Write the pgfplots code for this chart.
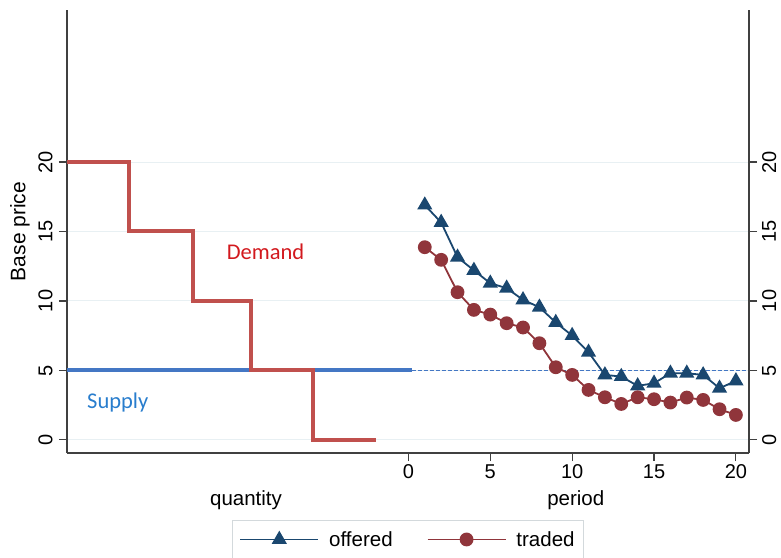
\documentclass[border=0pt]{standalone}
\usepackage{pgfplots}
\pgfplotsset{compat=1.18}
\usepackage{fontspec}
\setmainfont{Liberation Sans}
\newfontfamily\calibri{Carlito}

\definecolor{demand}{RGB}{192,80,77}
\definecolor{supply}{RGB}{68,119,196}
\definecolor{offered}{RGB}{26,71,111}
\definecolor{traded}{RGB}{144,53,59}
\definecolor{demandtxt}{RGB}{210,25,30}
\definecolor{supplytxt}{RGB}{40,125,205}
\definecolor{gridc}{RGB}{232,240,243}

\begin{document}
\begin{tikzpicture}
\useasboundingbox (0pt,0pt) rectangle (781pt,557pt);
\pgfplotsset{
  common/.style={
    scale only axis, width=682pt, height=443pt,
    at={(67pt,104pt)}, anchor=south west,
    xmin=-20.85, xmax=20.8, ymin=-0.94, ymax=30.94,
    ytick={0,5,...,20},
    axis line style={black!75, line width=1.1pt},
    major tick length=8pt,
    tick align=outside,
    tick style={black!75, line width=1.1pt},
    ticklabel style={font=\fontsize{20}{24}\selectfont},
    /pgf/number format/assume math mode=true,
  }
}
\begin{axis}[common,
  clip=false,
  axis x line*=bottom, axis y line*=left,
  xtick={0,5,...,20},
  ymajorgrids, grid style={gridc, line width=1pt},
  yticklabel style={rotate=90, anchor=south, yshift=3pt},
  ylabel={Base price},
  ylabel style={font=\fontsize{21}{24}\selectfont, at={(axis description cs:-0.069,0.5)}, anchor=center},
  legend style={at={(0.5,-0.151)}, anchor=north, legend columns=2,
    draw=gridc!80!gray, line width=0.8pt, font=\fontsize{20.5}{24}\selectfont,
    inner xsep=7pt, inner ysep=9pt,
    /tikz/every odd column/.append style={column sep=8pt},
    /tikz/every even column/.append style={column sep=32pt}},
  legend image code/.code={\draw[mark repeat=2,mark phase=2,#1] plot coordinates {(0pt,0pt) (39pt,0pt) (78pt,0pt)};},
]
% supply
\addplot[supply, line width=4pt, forget plot] coordinates {(-20.85,5) (0.2,5)};
\addplot[supply, line width=1.4pt, dash pattern=on 4pt off 2pt, forget plot] coordinates {(0.2,5) (20.8,5)};
% demand
\addplot[demand, line width=4pt, const plot, forget plot] coordinates {
  (-20.85,20) (-17.07,15) (-13.17,10) (-9.6,5) (-5.82,0) (-1.98,0)};
% offered
\addplot[offered, line width=1.8pt, mark=triangle*, mark size=7pt, mark options={solid}] coordinates {
  (1,16.9) (2,15.65) (3,13.15) (4,12.2) (5,11.28) (6,10.92) (7,10.08) (8,9.55)
  (9,8.45) (10,7.51) (11,6.31) (12,4.68) (13,4.56) (14,3.89) (15,4.08) (16,4.8)
  (17,4.8) (18,4.68) (19,3.72) (20,4.25)};
\addlegendentry{offered}
% traded
\addplot[traded, line width=1.8pt, mark=*, mark size=6pt, mark options={solid}] coordinates {
  (1,13.87) (2,12.96) (3,10.63) (4,9.36) (5,9.02) (6,8.4) (7,8.09) (8,6.96)
  (9,5.23) (10,4.68) (11,3.6) (12,3.07) (13,2.59) (14,3.07) (15,2.93) (16,2.69)
  (17,3.05) (18,2.88) (19,2.21) (20,1.8)};
\addlegendentry{traded}

\node[font=\calibri\fontsize{22.5}{27}\selectfont, text=demandtxt, anchor=base west, inner sep=0pt] at (axis cs:-11.1,13.0) {Demand};
\node[font=\calibri\fontsize{22.5}{27}\selectfont, text=supplytxt, anchor=base west, inner sep=0pt] at (axis cs:-19.63,2.23) {Supply};
\node[font=\fontsize{20.5}{24}\selectfont, anchor=base, inner sep=0pt] at (axis description cs:0.2625,-0.1174) {quantity};
\node[font=\fontsize{20.5}{24}\selectfont, anchor=base, inner sep=0pt] at (axis description cs:0.746,-0.1174) {period};
\end{axis}
\begin{axis}[common, hide x axis, axis y line*=right,
  yticklabel style={rotate=90, anchor=north, yshift=-1.5pt}]
\end{axis}
\end{tikzpicture}
\end{document}
